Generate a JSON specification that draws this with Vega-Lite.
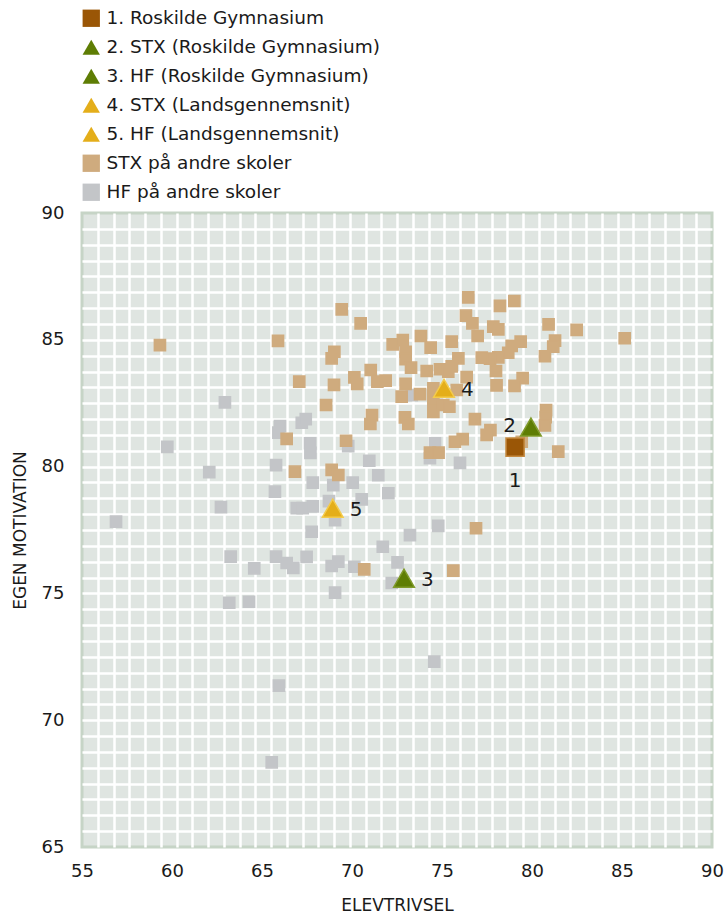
{
  "$schema": "https://vega.github.io/schema/vega-lite/v6.json",
  "width": 630,
  "height": 634,
  "autosize": {"type": "none"},
  "padding": {"left": 82, "top": 213, "right": 16, "bottom": 70},
  "background": "white",
  "config": {
    "font": "DejaVu Sans",
    "view": {"fill": "#dfe5e1", "stroke": "#c6d4c6", "strokeWidth": 3},
    "legend": {
      "orient": "none",
      "legendX": 0,
      "legendY": -204,
      "labelFont": "DejaVu Sans",
      "labelFontSize": 18.5,
      "labelColor": "#1a1a1a",
      "symbolSize": 300,
      "rowPadding": 10,
      "labelOffset": 6,
      "padding": 0,
      "symbolStrokeWidth": 0,
      "labelLimit": 400
    }
  },
  "data": {
    "values": [
      {"x": 62.94, "y": 82.53, "s": "HF på andre skoler"},
      {"x": 66.0, "y": 81.6, "s": "HF på andre skoler"},
      {"x": 65.91, "y": 81.34, "s": "HF på andre skoler"},
      {"x": 67.21, "y": 81.73, "s": "HF på andre skoler"},
      {"x": 67.43, "y": 81.87, "s": "HF på andre skoler"},
      {"x": 59.74, "y": 80.78, "s": "HF på andre skoler"},
      {"x": 65.78, "y": 80.06, "s": "HF på andre skoler"},
      {"x": 62.07, "y": 79.78, "s": "HF på andre skoler"},
      {"x": 65.72, "y": 79.01, "s": "HF på andre skoler"},
      {"x": 62.72, "y": 78.4, "s": "HF på andre skoler"},
      {"x": 56.89, "y": 77.83, "s": "HF på andre skoler"},
      {"x": 63.26, "y": 76.45, "s": "HF på andre skoler"},
      {"x": 64.57, "y": 75.99, "s": "HF på andre skoler"},
      {"x": 65.78, "y": 76.45, "s": "HF på andre skoler"},
      {"x": 66.37, "y": 76.2, "s": "HF på andre skoler"},
      {"x": 66.74, "y": 76.01, "s": "HF på andre skoler"},
      {"x": 67.67, "y": 80.92, "s": "HF på andre skoler"},
      {"x": 67.69, "y": 80.54, "s": "HF på andre skoler"},
      {"x": 69.79, "y": 80.81, "s": "HF på andre skoler"},
      {"x": 70.96, "y": 80.23, "s": "HF på andre skoler"},
      {"x": 71.46, "y": 79.66, "s": "HF på andre skoler"},
      {"x": 74.61, "y": 80.92, "s": "HF på andre skoler"},
      {"x": 74.33, "y": 80.33, "s": "HF på andre skoler"},
      {"x": 76.0, "y": 80.15, "s": "HF på andre skoler"},
      {"x": 67.82, "y": 79.37, "s": "HF på andre skoler"},
      {"x": 68.96, "y": 79.27, "s": "HF på andre skoler"},
      {"x": 70.04, "y": 79.37, "s": "HF på andre skoler"},
      {"x": 72.02, "y": 78.95, "s": "HF på andre skoler"},
      {"x": 70.54, "y": 78.71, "s": "HF på andre skoler"},
      {"x": 68.72, "y": 78.64, "s": "HF på andre skoler"},
      {"x": 66.93, "y": 78.36, "s": "HF på andre skoler"},
      {"x": 67.26, "y": 78.36, "s": "HF på andre skoler"},
      {"x": 67.82, "y": 78.43, "s": "HF på andre skoler"},
      {"x": 69.06, "y": 77.89, "s": "HF på andre skoler"},
      {"x": 67.76, "y": 77.43, "s": "HF på andre skoler"},
      {"x": 74.79, "y": 77.66, "s": "HF på andre skoler"},
      {"x": 73.22, "y": 77.3, "s": "HF på andre skoler"},
      {"x": 71.71, "y": 76.84, "s": "HF på andre skoler"},
      {"x": 67.48, "y": 76.44, "s": "HF på andre skoler"},
      {"x": 69.24, "y": 76.25, "s": "HF på andre skoler"},
      {"x": 68.87, "y": 76.08, "s": "HF på andre skoler"},
      {"x": 70.13, "y": 76.05, "s": "HF på andre skoler"},
      {"x": 72.53, "y": 76.22, "s": "HF på andre skoler"},
      {"x": 72.21, "y": 75.41, "s": "HF på andre skoler"},
      {"x": 69.06, "y": 75.03, "s": "HF på andre skoler"},
      {"x": 63.18, "y": 74.63, "s": "HF på andre skoler"},
      {"x": 64.28, "y": 74.67, "s": "HF på andre skoler"},
      {"x": 65.94, "y": 71.36, "s": "HF på andre skoler"},
      {"x": 65.54, "y": 68.34, "s": "HF på andre skoler"},
      {"x": 74.57, "y": 72.31, "s": "HF på andre skoler"},
      {"x": 73.32, "y": 82.82, "s": "HF på andre skoler"},
      {"x": 59.33, "y": 84.79, "s": "STX på andre skoler"},
      {"x": 65.89, "y": 84.96, "s": "STX på andre skoler"},
      {"x": 69.43, "y": 86.2, "s": "STX på andre skoler"},
      {"x": 70.48, "y": 85.65, "s": "STX på andre skoler"},
      {"x": 69.02, "y": 84.53, "s": "STX på andre skoler"},
      {"x": 68.87, "y": 84.27, "s": "STX på andre skoler"},
      {"x": 67.07, "y": 83.35, "s": "STX på andre skoler"},
      {"x": 69.0, "y": 83.22, "s": "STX på andre skoler"},
      {"x": 68.56, "y": 82.43, "s": "STX på andre skoler"},
      {"x": 70.13, "y": 83.52, "s": "STX på andre skoler"},
      {"x": 70.29, "y": 83.26, "s": "STX på andre skoler"},
      {"x": 71.04, "y": 83.81, "s": "STX på andre skoler"},
      {"x": 71.41, "y": 83.35, "s": "STX på andre skoler"},
      {"x": 71.87, "y": 83.39, "s": "STX på andre skoler"},
      {"x": 72.26, "y": 84.82, "s": "STX på andre skoler"},
      {"x": 72.82, "y": 84.99, "s": "STX på andre skoler"},
      {"x": 72.98, "y": 84.53, "s": "STX på andre skoler"},
      {"x": 72.98, "y": 84.24, "s": "STX på andre skoler"},
      {"x": 73.28, "y": 83.9, "s": "STX på andre skoler"},
      {"x": 73.83, "y": 85.15, "s": "STX på andre skoler"},
      {"x": 74.37, "y": 84.69, "s": "STX på andre skoler"},
      {"x": 74.15, "y": 83.77, "s": "STX på andre skoler"},
      {"x": 74.89, "y": 83.84, "s": "STX på andre skoler"},
      {"x": 72.98, "y": 83.26, "s": "STX på andre skoler"},
      {"x": 72.76, "y": 82.76, "s": "STX på andre skoler"},
      {"x": 73.78, "y": 82.86, "s": "STX på andre skoler"},
      {"x": 71.11, "y": 82.03, "s": "STX på andre skoler"},
      {"x": 71.02, "y": 81.68, "s": "STX på andre skoler"},
      {"x": 72.94, "y": 81.94, "s": "STX på andre skoler"},
      {"x": 73.13, "y": 81.68, "s": "STX på andre skoler"},
      {"x": 74.52, "y": 82.63, "s": "STX på andre skoler"},
      {"x": 74.52, "y": 82.16, "s": "STX på andre skoler"},
      {"x": 66.37, "y": 81.09, "s": "STX på andre skoler"},
      {"x": 69.67, "y": 81.02, "s": "STX på andre skoler"},
      {"x": 75.07, "y": 82.43, "s": "STX på andre skoler"},
      {"x": 76.46, "y": 86.67, "s": "STX på andre skoler"},
      {"x": 78.22, "y": 86.34, "s": "STX på andre skoler"},
      {"x": 79.02, "y": 86.53, "s": "STX på andre skoler"},
      {"x": 76.33, "y": 85.95, "s": "STX på andre skoler"},
      {"x": 76.69, "y": 85.65, "s": "STX på andre skoler"},
      {"x": 77.85, "y": 85.52, "s": "STX på andre skoler"},
      {"x": 78.13, "y": 85.41, "s": "STX på andre skoler"},
      {"x": 76.98, "y": 85.15, "s": "STX på andre skoler"},
      {"x": 75.54, "y": 84.93, "s": "STX på andre skoler"},
      {"x": 80.92, "y": 85.61, "s": "STX på andre skoler"},
      {"x": 82.48, "y": 85.39, "s": "STX på andre skoler"},
      {"x": 85.15, "y": 85.06, "s": "STX på andre skoler"},
      {"x": 81.28, "y": 84.97, "s": "STX på andre skoler"},
      {"x": 81.18, "y": 84.73, "s": "STX på andre skoler"},
      {"x": 80.72, "y": 84.35, "s": "STX på andre skoler"},
      {"x": 79.37, "y": 84.93, "s": "STX på andre skoler"},
      {"x": 78.87, "y": 84.76, "s": "STX på andre skoler"},
      {"x": 78.68, "y": 84.49, "s": "STX på andre skoler"},
      {"x": 78.13, "y": 84.31, "s": "STX på andre skoler"},
      {"x": 77.67, "y": 84.26, "s": "STX på andre skoler"},
      {"x": 77.21, "y": 84.3, "s": "STX på andre skoler"},
      {"x": 75.91, "y": 84.27, "s": "STX på andre skoler"},
      {"x": 75.54, "y": 83.95, "s": "STX på andre skoler"},
      {"x": 78.0, "y": 83.77, "s": "STX på andre skoler"},
      {"x": 78.03, "y": 83.2, "s": "STX på andre skoler"},
      {"x": 79.48, "y": 83.49, "s": "STX på andre skoler"},
      {"x": 79.03, "y": 83.18, "s": "STX på andre skoler"},
      {"x": 76.37, "y": 83.53, "s": "STX på andre skoler"},
      {"x": 75.82, "y": 83.02, "s": "STX på andre skoler"},
      {"x": 75.41, "y": 82.36, "s": "STX på andre skoler"},
      {"x": 76.83, "y": 81.87, "s": "STX på andre skoler"},
      {"x": 80.78, "y": 82.23, "s": "STX på andre skoler"},
      {"x": 80.76, "y": 81.95, "s": "STX på andre skoler"},
      {"x": 80.72, "y": 81.62, "s": "STX på andre skoler"},
      {"x": 77.69, "y": 81.44, "s": "STX på andre skoler"},
      {"x": 77.48, "y": 81.25, "s": "STX på andre skoler"},
      {"x": 76.15, "y": 81.08, "s": "STX på andre skoler"},
      {"x": 75.72, "y": 80.98, "s": "STX på andre skoler"},
      {"x": 74.33, "y": 80.55, "s": "STX på andre skoler"},
      {"x": 74.81, "y": 80.55, "s": "STX på andre skoler"},
      {"x": 81.46, "y": 80.59, "s": "STX på andre skoler"},
      {"x": 66.83, "y": 79.8, "s": "STX på andre skoler"},
      {"x": 68.87, "y": 79.87, "s": "STX på andre skoler"},
      {"x": 69.24, "y": 79.67, "s": "STX på andre skoler"},
      {"x": 76.89, "y": 77.57, "s": "STX på andre skoler"},
      {"x": 70.68, "y": 75.95, "s": "STX på andre skoler"},
      {"x": 75.63, "y": 75.9, "s": "STX på andre skoler"},
      {"x": 79.43, "y": 80.98, "s": "STX på andre skoler"},
      {"x": 75.35, "y": 83.74, "s": "STX på andre skoler"},
      {"x": 74.52, "y": 83.09, "s": "STX på andre skoler"},
      {"x": 79.06, "y": 80.77, "s": "1. Roskilde Gymnasium", "label": "1"},
      {"x": 79.94, "y": 81.56, "s": "2. STX (Roskilde Gymnasium)", "label": "2"},
      {"x": 72.89, "y": 75.6, "s": "3. HF (Roskilde Gymnasium)", "label": "3"},
      {"x": 75.11, "y": 83.09, "s": "4. STX (Landsgennemsnit)", "label": "4"},
      {"x": 68.93, "y": 78.36, "s": "5. HF (Landsgennemsnit)", "label": "5"}
    ]
  },
  "encoding": {
    "x": {
      "field": "x",
      "type": "quantitative",
      "scale": {"domain": [55, 90], "nice": false, "zero": false},
      "axis": {
        "title": "ELEVTRIVSEL",
        "values": [55, 55.875, 56.75, 57.625, 58.5, 59.375, 60, 60.25, 61.125, 62, 62.875, 63.75, 64.625, 65, 65.5, 66.375, 67.25, 68.125, 69, 69.875, 70, 70.75, 71.625, 72.5, 73.375, 74.25, 75, 75.125, 76, 76.875, 77.75, 78.625, 79.5, 80, 80.375, 81.25, 82.125, 83, 83.875, 84.75, 85, 85.625, 86.5, 87.375, 88.25, 89.125, 90],
        "labelExpr": "datum.value % 5 === 0 ? format(datum.value, 'd') : ''",
        "grid": true,
        "gridColor": "#ffffff",
        "gridWidth": 2.5,
        "gridOpacity": {"condition": {"test": "datum.value % 5 === 0", "value": 0}, "value": 1},
        "ticks": false,
        "tickSize": 0,
        "domain": false,
        "labelFont": "DejaVu Sans",
        "labelFontSize": 18,
        "labelColor": "#1a1a1a",
        "labelPadding": 15,
        "labelFlush": false,
        "labelOverlap": false,
        "titleFont": "DejaVu Sans",
        "titleFontSize": 17,
        "titleFontWeight": "normal",
        "titleColor": "#1a1a1a",
        "titlePadding": 17
      }
    },
    "y": {
      "field": "y",
      "type": "quantitative",
      "scale": {"domain": [65, 90], "nice": false, "zero": false},
      "axis": {
        "title": "EGEN MOTIVATION",
        "values": [65, 65.625, 66.25, 66.875, 67.5, 68.125, 68.75, 69.375, 70, 70.625, 71.25, 71.875, 72.5, 73.125, 73.75, 74.375, 75, 75.625, 76.25, 76.875, 77.5, 78.125, 78.75, 79.375, 80, 80.625, 81.25, 81.875, 82.5, 83.125, 83.75, 84.375, 85, 85.625, 86.25, 86.875, 87.5, 88.125, 88.75, 89.375, 90],
        "labelExpr": "datum.value % 5 === 0 ? format(datum.value, 'd') : ''",
        "grid": true,
        "gridColor": "#ffffff",
        "gridWidth": 2.5,
        "gridOpacity": {"condition": {"test": "datum.value === 65 || datum.value === 90", "value": 0}, "value": 1},
        "ticks": false,
        "tickSize": 0,
        "domain": false,
        "labelFont": "DejaVu Sans",
        "labelFontSize": 18,
        "labelColor": "#1a1a1a",
        "labelPadding": 18,
        "labelFlush": false,
        "labelOverlap": false,
        "titleFont": "DejaVu Sans",
        "titleFontSize": 17,
        "titleFontWeight": "normal",
        "titleColor": "#1a1a1a",
        "titlePadding": 12
      }
    }
  },
  "layer": [
    {
      "mark": {"type": "point", "filled": true, "opacity": 1, "strokeWidth": 1.5, "strokeOpacity": 1},
      "encoding": {
        "color": {
          "field": "s",
          "type": "nominal",
          "title": null,
          "scale": {
            "domain": ["1. Roskilde Gymnasium", "2. STX (Roskilde Gymnasium)", "3. HF (Roskilde Gymnasium)", "4. STX (Landsgennemsnit)", "5. HF (Landsgennemsnit)", "STX på andre skoler", "HF på andre skoler"],
            "range": ["#9a5606", "#5e7d04", "#5e7d04", "#e4ae1a", "#e4ae1a", "#cfab7e", "#c3c5c8"]
          }
        },
        "shape": {
          "field": "s",
          "type": "nominal",
          "title": null,
          "scale": {
            "domain": ["1. Roskilde Gymnasium", "2. STX (Roskilde Gymnasium)", "3. HF (Roskilde Gymnasium)", "4. STX (Landsgennemsnit)", "5. HF (Landsgennemsnit)", "STX på andre skoler", "HF på andre skoler"],
            "range": ["square", "triangle-up", "triangle-up", "triangle-up", "triangle-up", "square", "square"]
          }
        },
        "stroke": {
          "condition": [
            {"test": "datum.s === '1. Roskilde Gymnasium'", "value": "#c58a40"},
            {"test": "datum.s === '2. STX (Roskilde Gymnasium)' || datum.s === '3. HF (Roskilde Gymnasium)'", "value": "#7f9a2a"},
            {"test": "datum.s === '4. STX (Landsgennemsnit)' || datum.s === '5. HF (Landsgennemsnit)'", "value": "#f3cb4c"},
            {"test": "datum.s === 'STX på andre skoler'", "value": "#cfab7e"}
          ],
          "value": "#c3c5c8"
        },
        "size": {
          "condition": [
            {"test": "datum.s === 'STX på andre skoler' || datum.s === 'HF på andre skoler'", "value": 125},
            {"test": "datum.s === '1. Roskilde Gymnasium'", "value": 330}
          ],
          "value": 430
        }
      }
    },
    {
      "transform": [{"filter": "datum.label === '1'"}],
      "mark": {"type": "text", "fontSize": 20, "font": "DejaVu Sans", "color": "#1a1a1a", "baseline": "middle", "align": "center", "dy": 34},
      "encoding": {"text": {"field": "label"}}
    },
    {
      "transform": [{"filter": "datum.label === '2'"}],
      "mark": {"type": "text", "fontSize": 20, "font": "DejaVu Sans", "color": "#1a1a1a", "baseline": "middle", "align": "right", "dx": -15, "dy": -1},
      "encoding": {"text": {"field": "label"}}
    },
    {
      "transform": [{"filter": "datum.label === '3' || datum.label === '4' || datum.label === '5'"}],
      "mark": {"type": "text", "fontSize": 20, "font": "DejaVu Sans", "color": "#1a1a1a", "baseline": "middle", "align": "left", "dx": 17, "dy": 2},
      "encoding": {"text": {"field": "label"}}
    }
  ]
}
